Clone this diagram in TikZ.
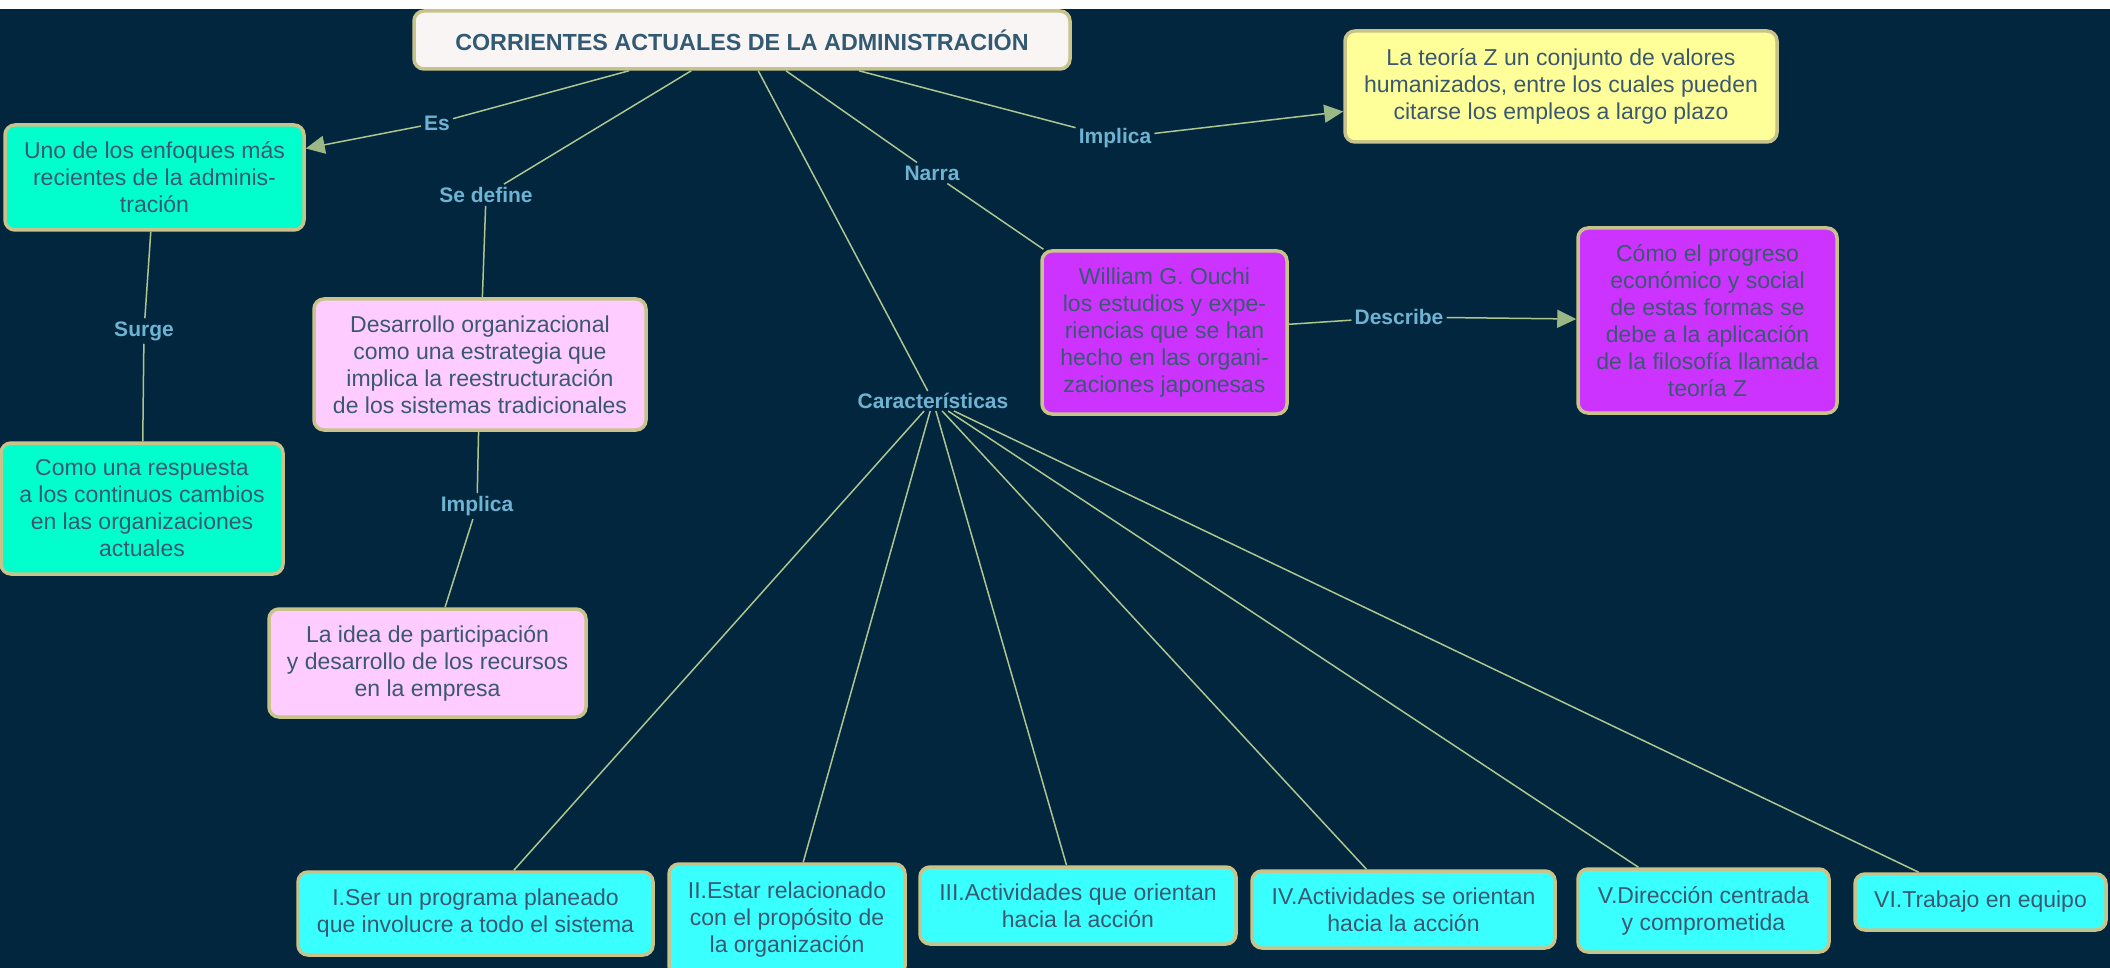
\documentclass[tikz,border=0pt]{standalone}
\usepackage{fontspec}
\setmainfont{Liberation Sans}
\usetikzlibrary{arrows.meta}
\definecolor{bg}{RGB}{3,38,63}
\definecolor{bord}{RGB}{199,195,138}
\definecolor{txt}{RGB}{58,88,112}
\definecolor{ttl}{RGB}{50,90,115}
\definecolor{lab}{RGB}{110,180,210}
\definecolor{lin}{RGB}{172,198,142}
\definecolor{arrc}{RGB}{154,184,134}
\definecolor{teal}{RGB}{0,255,204}
\definecolor{cyanb}{RGB}{58,255,255}
\definecolor{pinkb}{RGB}{255,204,255}
\definecolor{yel}{RGB}{255,255,153}
\definecolor{purp}{RGB}{204,51,255}
\definecolor{ttlfill}{RGB}{249,245,245}
\tikzset{
  bx/.style={draw=bord, line width=3.5pt, rounded corners=10pt, align=center,
    text=txt, font=\fontsize{23}{27}\selectfont, inner sep=0pt},
  lbl/.style={text=lab, font=\bfseries\fontsize{21}{24}\selectfont, inner sep=3pt},
  conn/.style={draw=lin, line width=1.5pt},
  arr/.style={conn, -{Triangle[length=19pt,width=18pt,color=arrc]}}
}
\begin{document}
\begin{tikzpicture}[x=1pt,y=-1pt]
\useasboundingbox (0,0) rectangle (2110,968);
\fill[white] (0,0) rectangle (2110,968);
\fill[bg] (0,9) rectangle (2110,968);

% main nodes
\node[bx, fill=ttlfill, text=ttl, font=\bfseries\fontsize{23.3}{27}\selectfont,
  minimum width=656pt, minimum height=58pt] (title) at (742,40)
  {CORRIENTES ACTUALES DE LA ADMINISTRACIÓN};

\node[bx, fill=teal, minimum width=299pt, minimum height=105pt] (uno) at (154.5,177.5)
  {Uno de los enfoques más\\recientes de la adminis-\\tración};
\node[bx, fill=teal, minimum width=282pt, minimum height=131pt] (como) at (142,508.5)
  {Como una respuesta\\a los continuos cambios\\en las organizaciones\\actuales};
\node[bx, fill=pinkb, minimum width=332pt, minimum height=131pt] (desa) at (480,364.5)
  {Desarrollo organizacional\\como una estrategia que\\implica la reestructuración\\de los sistemas tradicionales};
\node[bx, fill=pinkb, minimum width=317pt, minimum height=108pt] (idea) at (427.5,663)
  {La idea de participación\\y desarrollo de los recursos\\en la empresa};
\node[bx, fill=yel, minimum width=432pt, minimum height=111pt] (teoz) at (1561,86.5)
  {La teoría Z un conjunto de valores\\humanizados, entre los cuales pueden\\citarse los empleos a largo plazo};
\node[bx, fill=purp, minimum width=245pt, minimum height=163pt] (ouchi) at (1164.5,332.5)
  {William G. Ouchi\\los estudios y expe-\\riencias que se han\\hecho en las organi-\\zaciones japonesas};
\node[bx, fill=purp, minimum width=259pt, minimum height=185pt] (progreso) at (1707.5,320.5)
  {Cómo el progreso\\económico y social\\de estas formas se\\debe a la aplicación\\de la filosofía llamada\\teoría Z};

% bottom nodes
\node[bx, fill=cyanb, minimum width=355pt, minimum height=83pt] (c1) at (475.5,913.5)
  {I.Ser un programa planeado\\que involucre a todo el sistema};
\node[bx, fill=cyanb, minimum width=236pt, minimum height=112pt] (c2) at (787,920)
  {II.Estar relacionado\\con el propósito de\\la organización};
\node[bx, fill=cyanb, minimum width=316pt, minimum height=77pt] (c3) at (1078,905.5)
  {III.Actividades que orientan\\hacia la acción};
\node[bx, fill=cyanb, minimum width=303pt, minimum height=77pt] (c4) at (1403.5,909.5)
  {IV.Actividades se orientan\\hacia la acción};
\node[bx, fill=cyanb, minimum width=251pt, minimum height=83pt] (c5) at (1703.5,910.5)
  {V.Dirección centrada\\y comprometida};
\node[bx, fill=cyanb, minimum width=251pt, minimum height=56pt] (c6) at (1980.5,902)
  {VI.Trabajo en equipo};

% link labels
\node[lbl] (es) at (437,123) {Es};
\node[lbl] (sedef) at (486,195) {Se define};
\node[lbl] (narra) at (932,173) {Narra};
\node[lbl] (impl1) at (1115,138) {Implica};
\node[lbl] (desc) at (1399,317) {Describe};
\node[lbl, inner sep=2pt] (carac) at (933,401) {Características};
\node[lbl] (surge) at (144,331) {Surge};
\node[lbl] (impl2) at (477,506) {Implica};

% connectors
\draw[conn] (title) -- (es);
\draw[arr] (es) -- (uno);
\draw[conn] (title) -- (sedef);
\draw[conn] (sedef) -- (desa);
\draw[conn] (title) -- (narra);
\draw[conn] (narra) -- (ouchi);
\draw[conn] (title) -- (impl1);
\draw[arr] (impl1) -- (teoz);
\draw[conn] (ouchi) -- (desc);
\draw[arr] (desc) -- (progreso);
\draw[conn] (title) -- (carac);
\draw[conn] (uno) -- (surge);
\draw[conn] (surge) -- (como);
\draw[conn] (desa) -- (impl2);
\draw[conn] (impl2) -- (idea);
\foreach \n in {c1,c2,c3,c4,c5,c6}{\draw[conn] (carac) -- (\n);}
\end{tikzpicture}
\end{document}
